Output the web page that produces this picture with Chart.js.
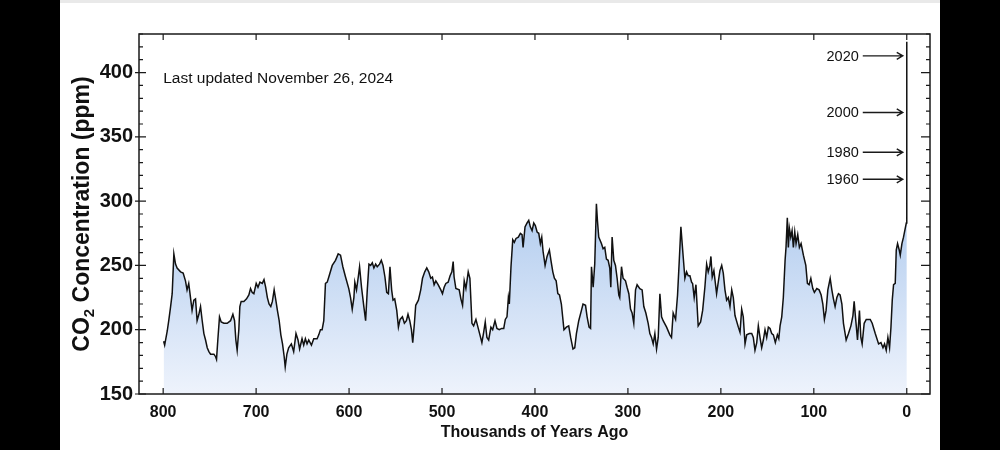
<!DOCTYPE html>
<html>
<head>
<meta charset="utf-8">
<script src="https://cdn.jsdelivr.net/npm/chart.js@4.4.0/dist/chart.umd.min.js"></script>
<style>
  html, body { margin: 0; padding: 0; background: #000; }
  #page { position: relative; width: 1000px; height: 450px; overflow: hidden; }
  #panel { position: absolute; left: 60px; top: 0; width: 880px; height: 450px; background: #fff; border-top: 3px solid #e9e9e9; box-sizing: border-box; }
  #wrap { position: absolute; left: 0; top: 0; width: 1000px; height: 450px; }
</style>
</head>
<body>
<div id="page">
  <div id="panel"></div>
  <div id="wrap"><canvas id="chart" width="1000" height="450"></canvas></div>
</div>
<script>
// thousands of years ago (negative = after 1950)
var ages = [
  799.5, 798.4, 795.6, 794, 792, 790.3, 788.5, 786.7, 785, 781.3, 778.5, 776, 774.3, 772.5, 770.6, 768.9, 767, 765.2, 763.5, 761.6,
  759.8, 758, 756.2, 754.4, 752.6, 750.8, 749, 745.4, 743.6, 742.6, 741.2, 739.4, 737.6, 734.7, 731.1, 727.5, 725, 723.2, 721.8, 720.4,
  718.6, 717.5, 716.1, 713.2, 710.3, 707.8, 706, 704.2, 702.4, 699.9, 698, 695.9, 693.4, 691.5, 689.7, 687.9, 686.1, 684.2, 682.5, 680.6,
  678.8, 677.1, 675.2, 673.4, 671.6, 669.8, 668.7, 666.9, 665, 662.1, 659.6, 657.1, 654.9, 653.2, 650.6, 648.8, 647, 645.2, 643.4, 640.5,
  638, 634.4, 632.6, 630.8, 629, 627.2, 625.4, 623.5, 621.8, 618.1, 614.6, 611.7, 609.2, 606.7, 603.8, 600.3, 598.4, 596.6, 594.8, 593.8,
  592, 590.1, 588.7, 586.6, 584.1, 582.2, 580.4, 578.6, 576.8, 575, 573.3, 571.4, 569.7, 567.2, 565.3, 563.5, 561.4, 559.5, 557.7, 556,
  554.2, 552.7, 550.9, 548.7, 546.9, 545.1, 542.6, 540.5, 538.3, 536.6, 534.7, 532.9, 531.5, 529.7, 528.3, 525.4, 522.9, 521, 518.6, 516.4,
  514.3, 512.1, 510.3, 508.5, 506.7, 504.2, 501.3, 499.5, 497.7, 495.9, 493.4, 491.3, 489.4, 488, 487, 485.1, 481.5, 479.7, 477.9, 476.1,
  474.3, 471.8, 470, 467.8, 466, 463.5, 461.7, 459.2, 457.1, 455.2, 453.5, 451.7, 449.8, 447.4, 445.5, 443, 440.9, 438.4, 435.8, 433.6,
  431.9, 430.1, 428.6, 427.6, 425.8, 423.9, 422.2, 420.4, 417.9, 415.7, 413.9, 412.8, 410.7, 408.5, 406.7, 405, 403.1, 401.3, 399.6, 397.7,
  395.9, 394.2, 392.7, 391.3, 389.1, 387, 384.5, 382.6, 380.8, 379.1, 377.2, 375.4, 373.6, 371.6, 368.8, 366.2, 363.7, 361.6, 359.1, 357.2,
  355.4, 352.9, 350, 348.3, 345.6, 343.9, 341.8, 340.2, 339.2, 337.4, 335.7, 333.9, 332.8, 331.4, 328.5, 326.7, 324.9, 323.1, 321.3, 319.5,
  318.4, 317, 315.2, 313.4, 311.6, 309.8, 308.8, 306.9, 305.2, 302.6, 300.9, 299, 297.2, 295.5, 293.7, 291.8, 290.1, 287.2, 284.7, 282.9,
  280.7, 278.2, 276.4, 274.6, 272.8, 271, 269.2, 267.4, 265.6, 263.8, 262.1, 258.4, 254.9, 253.1, 251.3, 248.7, 246.6, 244.8, 243, 241.2,
  238.7, 236.9, 235.1, 233.3, 231.5, 230.4, 228.7, 226.8, 224.4, 221.8, 219.6, 217.2, 215.3, 213.6, 211.8, 210.7, 209.3, 207.5, 204.6, 202.8,
  201, 199.1, 197.4, 195.6, 193.8, 192, 190.2, 188.3, 186.6, 184.8, 181.2, 179.4, 177.6, 175.9, 174, 172.2, 169.4, 166.8, 165.1, 163.3,
  161.4, 159.7, 157.9, 156.1, 154.3, 152.5, 150.7, 148.9, 147.1, 145.3, 143.5, 141.4, 139.2, 137.7, 136.3, 134.5, 132.8, 130.9, 129.9, 128.5,
  127.4, 126.3, 124.8, 123.4, 122, 120.5, 119.1, 117.3, 115.5, 113.7, 111.2, 108.6, 106.9, 105.1, 103.2, 101.1, 99.4, 96.8, 94.3, 92.1,
  90.3, 88.6, 86.8, 84.9, 82.4, 80.6, 78.9, 77.1, 75.2, 73.5, 71.7, 69.8, 68.1, 65.2, 62.7, 60.1, 57.9, 56.6, 55.2, 53,
  50.9, 49.4, 48, 45.8, 43.6, 39.3, 37.2, 33.9, 30.3, 27.8, 25.6, 23.9, 22.1, 20.3, 18.5, 17, 15.6, 14.2, 12.4, 11.3,
  9.9, 8.1, 7, 5.2, 3.5, 1.6, 0.5, 0.1, 0, -0.01, -0.03, -0.05, -0.07, -0.074
];
// CO2 in ppm
var co2 = [
  191, 188, 199, 207, 218, 228, 259, 251, 248, 245, 244, 238, 231, 236, 225, 215, 223, 224, 207, 212,
  218, 207, 197, 192, 186, 183, 181, 181, 179, 177, 192, 210, 206, 205, 205, 207, 212, 207, 192, 184,
  200, 218, 222, 222, 224, 227, 232, 229, 228, 236, 233, 237, 236, 239, 233, 225, 220, 218, 222, 231,
  223, 215, 207, 196, 189, 179, 171, 181, 186, 189, 183, 197, 192, 185, 193, 188, 193, 189, 192, 188,
  193, 193, 196, 200, 200, 207, 236, 237, 241, 250, 254, 259, 258, 249, 241, 232, 225, 216, 225, 237,
  231, 241, 249, 233, 218, 207, 231, 251, 250, 252, 248, 251, 249, 251, 254, 250, 241, 229, 228, 249,
  231, 223, 224, 215, 202, 208, 210, 205, 207, 212, 207, 200, 190, 205, 219, 223, 231, 240, 245, 248,
  245, 240, 241, 235, 238, 235, 231, 228, 233, 236, 237, 242, 245, 253, 241, 232, 231, 224, 219, 238,
  232, 245, 240, 205, 203, 208, 203, 196, 190, 198, 206, 194, 192, 202, 200, 207, 201, 200, 201, 201,
  208, 210, 225, 220, 249, 270, 268, 271, 272, 275, 274, 264, 280, 283, 285, 280, 277, 283, 281, 276,
  275, 267, 272, 261, 250, 257, 262, 253, 245, 240, 238, 228, 227, 220, 200, 202, 203, 194, 185, 186,
  197, 207, 215, 220, 219, 210, 202, 201, 249, 233, 251, 298, 285, 272, 267, 263, 264, 255, 254, 248,
  233, 272, 254, 250, 240, 227, 225, 249, 240, 238, 233, 228, 216, 213, 205, 231, 235, 232, 231, 218,
  213, 205, 197, 194, 189, 197, 185, 194, 228, 210, 207, 202, 196, 194, 213, 208, 227, 253, 280, 263,
  240, 245, 242, 242, 237, 236, 225, 235, 203, 206, 215, 233, 251, 245, 250, 257, 241, 246, 228, 237,
  246, 250, 244, 231, 223, 225, 218, 231, 225, 211, 202, 198, 216, 210, 189, 196, 197, 197, 194, 184,
  190, 203, 194, 186, 192, 200, 194, 202, 201, 197, 196, 190, 196, 193, 203, 210, 225, 254, 264, 287,
  264, 279, 272, 277, 264, 276, 267, 274, 264, 267, 258, 250, 236, 235, 240, 232, 229, 232, 231, 227,
  220, 208, 215, 231, 240, 231, 224, 218, 225, 228, 227, 220, 205, 192, 197, 203, 211, 222, 210, 192,
  215, 194, 189, 205, 208, 208, 205, 197, 189, 190, 186, 189, 184, 194, 186, 202, 223, 235, 236, 262,
  267, 262, 258, 267, 272, 279, 283, 285, 311, 317, 338, 369, 413, 424
];

var xTicks = [800, 700, 600, 500, 400, 300, 200, 100, 0];
var yTicks = [150, 200, 250, 300, 350, 400];
var markerYears = ['1960', '1980', '2000', '2020'];
var markerValues = [317, 338, 369, 413];
var updatedText = 'Last updated November 26, 2024';

var points = ages.map(function (a, i) { return { x: a, y: co2[i] }; });

function fillGradient(context) {
    var chart = context.chart;
    var area = chart.chartArea;
    if (!area) return 'rgba(200,215,240,0.8)';
    var ys = chart.scales.y;
    var g = chart.ctx.createLinearGradient(0, ys.getPixelForValue(300), 0, area.bottom);
    g.addColorStop(0, 'rgb(176,203,238)');
    g.addColorStop(1, 'rgb(238,243,252)');
    return g;
}

// frame, inside ticks, y title, note and year arrows
var decorPlugin = {
    id: 'decor',
    afterDatasetsDraw: function (chart) {
        var ctx = chart.ctx;
        var a = chart.chartArea;
        var xs = chart.scales.x;
        var ys = chart.scales.y;
        ctx.save();

        ctx.strokeStyle = '#1a1a1a';
        ctx.lineWidth = 1.5;
        ctx.strokeRect(a.left, a.top, a.right - a.left, a.bottom - a.top);

        ctx.lineWidth = 1.2;
        ctx.beginPath();
        for (var v = 150; v <= 430; v += 10) {
            var y = ys.getPixelForValue(v);
            var major = v % 50 === 0;
            ctx.moveTo(a.left - (major ? 4 : 0), y);
            ctx.lineTo(a.left + (major ? 7 : 4), y);
            ctx.moveTo(a.right, y);
            ctx.lineTo(a.right - (major ? 9 : 4), y);
        }
        xTicks.forEach(function (t) {
            var x = xs.getPixelForValue(t);
            ctx.moveTo(x, a.bottom);
            ctx.lineTo(x, a.bottom - 6);
            ctx.moveTo(x, a.top);
            ctx.lineTo(x, a.top + 6);
        });
        ctx.stroke();

        // last updated note
        ctx.fillStyle = '#111';
        ctx.font = '15.5px "Liberation Sans", Arial, sans-serif';
        ctx.textAlign = 'left';
        ctx.textBaseline = 'alphabetic';
        ctx.fillText(updatedText, xs.getPixelForValue(800), a.top + 49);

        // year arrows
        var xEnd = xs.getPixelForValue(0) - 4;
        ctx.font = '14.5px "Liberation Sans", Arial, sans-serif';
        ctx.textAlign = 'right';
        ctx.lineWidth = 1.4;
        for (var i = 0; i < markerYears.length; i++) {
            var my = ys.getPixelForValue(markerValues[i]);
            ctx.beginPath();
            ctx.moveTo(xEnd - 40, my);
            ctx.lineTo(xEnd, my);
            ctx.moveTo(xEnd - 6, my - 3.5);
            ctx.lineTo(xEnd, my);
            ctx.lineTo(xEnd - 6, my + 3.5);
            ctx.stroke();
            ctx.fillText(markerYears[i], xEnd - 44, my + 5);
        }

        // y title with subscript
        ctx.translate(81, (a.top + a.bottom) / 2);
        ctx.rotate(-Math.PI / 2);
        var big = 'bold 23px "Liberation Sans", Arial, sans-serif';
        var small = 'bold 15px "Liberation Sans", Arial, sans-serif';
        ctx.font = big;
        var w1 = ctx.measureText('CO').width;
        var w3 = ctx.measureText(' Concentration (ppm)').width;
        ctx.font = small;
        var w2 = ctx.measureText('2').width;
        var sx = -(w1 + w2 + w3) / 2;
        ctx.textAlign = 'left';
        ctx.fillStyle = '#111';
        ctx.font = big;
        ctx.fillText('CO', sx, 8);
        ctx.font = small;
        ctx.fillText('2', sx + w1, 12.5);
        ctx.font = big;
        ctx.fillText(' Concentration (ppm)', sx + w1 + w2, 8);
        ctx.restore();
    }
};

var chart = new Chart(document.getElementById('chart'), {
    type: 'line',
    data: {
        datasets: [{
            data: points,
            borderColor: '#111',
            borderWidth: 1.5,
            pointRadius: 0,
            tension: 0,
            fill: 'start',
            backgroundColor: fillGradient
        }]
    },
    options: {
        responsive: false,
        animation: false,
        events: [],
        layout: { padding: { top: 34, right: 70, left: 0, bottom: 0 } },
        plugins: {
            legend: { display: false },
            tooltip: { enabled: false }
        },
        scales: {
            x: {
                type: 'linear',
                reverse: true,
                min: -25,
                max: 826,
                grid: { display: false, drawTicks: false },
                border: { display: false },
                afterBuildTicks: function (scale) {
                    scale.ticks = xTicks.map(function (v) { return { value: v }; });
                },
                afterFit: function (scale) { scale.height = 56; },
                ticks: {
                    color: '#111',
                    padding: 9,
                    maxRotation: 0,
                    font: { family: '"Liberation Sans", Arial, sans-serif', size: 16, weight: 'bold' }
                },
                title: {
                    display: true,
                    text: 'Thousands of Years Ago',
                    color: '#111',
                    padding: { top: 0, bottom: 8 },
                    font: { family: '"Liberation Sans", Arial, sans-serif', size: 16, weight: 'bold' }
                }
            },
            y: {
                min: 150,
                max: 430,
                grid: { display: false, drawTicks: false },
                border: { display: false },
                afterBuildTicks: function (scale) {
                    scale.ticks = yTicks.map(function (v) { return { value: v }; });
                },
                afterFit: function (scale) { scale.width = 139; },
                ticks: {
                    color: '#111',
                    padding: 6,
                    font: { family: '"Liberation Sans", Arial, sans-serif', size: 20, weight: 'bold' }
                }
            }
        }
    },
    plugins: [decorPlugin]
});
</script>
</body>
</html>
